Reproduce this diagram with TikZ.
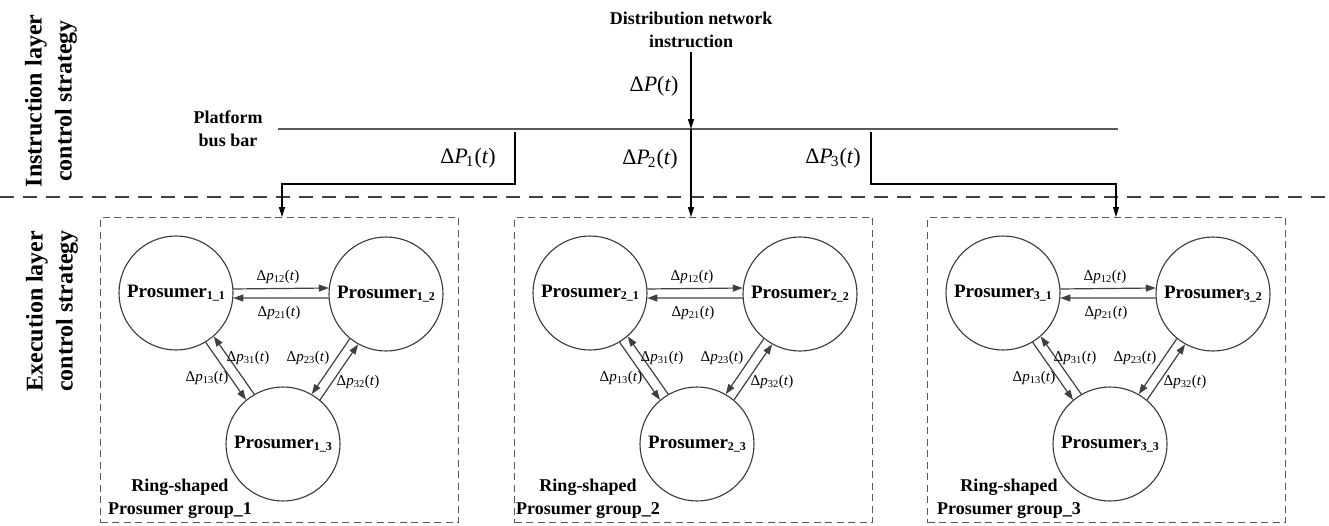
\documentclass[tikz,border=0pt]{standalone}
\usepackage{fontspec}
\setmainfont{Liberation Serif}
\usetikzlibrary{arrows.meta,calc}
\newcommand\psub[1]{\raisebox{-2.5pt}{\fontsize{12}{12}\selectfont #1}}
\newcommand\dpl[1]{Δ\textit{p}\textsubscript{#1}(\textit{t})}
\newcommand\bigdP[1]{Δ\textit{P}\kern-2pt\textsubscript{#1}\kern0.5pt(\textit{t})}
\tikzset{
  pros/.style={circle, draw=black!78, line width=1.1pt, minimum size=114pt, inner sep=0pt, font=\fontsize{19}{22}\selectfont\bfseries},
  grp/.style={draw=black!65, line width=1pt, dash pattern=on 7pt off 4.5pt, minimum width=358pt, minimum height=305pt, anchor=north west, inner sep=0pt},
  plab/.style={font=\fontsize{15}{18}\selectfont, inner sep=0pt},
  biglab/.style={font=\fontsize{22}{26}\selectfont, inner sep=0pt},
  boldlab/.style={font=\fontsize{18}{23}\selectfont\bfseries, align=center, inner sep=0pt},
  sidelab/.style={font=\fontsize{24}{30}\selectfont\bfseries, align=center, inner sep=0pt, rotate=90},
  flow/.style={draw=black!75, line width=1.2pt, -{Triangle[length=10pt,width=7pt]}},
  feed/.style={draw=black, line width=1.1pt, -{Triangle[length=10pt,width=6pt]}},
  busline/.style={draw=black!65, line width=1.2pt},
  layerline/.style={draw=black!75, line width=1.8pt, dash pattern=on 14pt off 9pt}
}
\begin{document}
\begin{tikzpicture}[x=1pt,y=-1pt]
\useasboundingbox (0,0) rectangle (1329,525);
% side labels
\node[sidelab] (instr) at (51,101) {Instruction layer\\control strategy};
\node[sidelab] (exec) at (52,311) {Execution layer\\control strategy};
% layer separator
\coordinate (sepL) at (0,197);
\coordinate (sepR) at (1329,197);
\draw[layerline] (sepL) -- (sepR);
% top
\node[boldlab] (dni) at (691,30) {Distribution network\\instruction};
\node[boldlab] (pbb) at (228,129) {Platform\\bus bar};
\coordinate (busL) at (278,129);
\coordinate (busR) at (1118,129);
\coordinate (bj) at (691,129);
\coordinate (dtop) at (691,52);
\draw[busline] (busL) -- (busR);
\draw[feed] (dtop) -- (bj);
\node[biglab] (dP) at (654,86) {Δ\textit{P}(\textit{t})};
% groups
\foreach \L/\g/\lx in {100/1/180, 514/2/588, 927/3/1009}{
  \node[grp] (g\g) at (\L,217) {};
  \node[pros] (c\g1) at (\L+76,293) {Prosumer\psub{\g\_1}};
  \node[pros] (c\g2) at (\L+286,294) {Prosumer\psub{\g\_2}};
  \node[pros] (c\g3) at (\L+183,444) {Prosumer\psub{\g\_3}};
  \node[boldlab] (lab\g) at (\lx,499) {Ring-shaped\\Prosumer group\_\g};
  % c1 - c2
  \draw[flow] let \p1=($(c\g2)-(c\g1)$), \n1={atan2(\y1,\x1)} in (c\g1.{\n1+5}) -- (c\g2.{\n1+175});
  \draw[flow] let \p1=($(c\g2)-(c\g1)$), \n1={atan2(\y1,\x1)} in (c\g2.{\n1+185}) -- (c\g1.{\n1-5});
  % c1 - c3
  \draw[flow] let \p1=($(c\g3)-(c\g1)$), \n1={atan2(\y1,\x1)} in (c\g3.{\n1+175}) -- (c\g1.{\n1+5});
  \draw[flow] let \p1=($(c\g3)-(c\g1)$), \n1={atan2(\y1,\x1)} in (c\g1.{\n1-5}) -- (c\g3.{\n1+185});
  % c2 - c3
  \draw[flow] let \p1=($(c\g3)-(c\g2)$), \n1={atan2(\y1,\x1)} in (c\g3.{\n1+175}) -- (c\g2.{\n1+5});
  \draw[flow] let \p1=($(c\g3)-(c\g2)$), \n1={atan2(\y1,\x1)} in (c\g2.{\n1-5}) -- (c\g3.{\n1+185});
  % labels
  \node[plab] (l12\g) at (\L+178,277) {\dpl{12}};
  \node[plab] (l21\g) at (\L+179,313) {\dpl{21}};
  \node[plab] (l31\g) at (\L+148,358) {\dpl{31}};
  \node[plab] (l13\g) at (\L+107,378) {\dpl{13}};
  \node[plab] (l23\g) at (\L+208,358) {\dpl{23}};
  \node[plab] (l32\g) at (\L+258,382) {\dpl{32}};
}
% feeders
\coordinate (p1s) at (515,132);
\coordinate (p1c) at (282,184);
\draw[feed] (p1s) |- (p1c) -- (p1c |- g1.north);
\draw[feed] (bj) -- (bj |- g2.north);
\coordinate (p3s) at (871,132);
\coordinate (p3c) at (1116,184);
\draw[feed] (p3s) |- (p3c) -- (p3c |- g3.north);
\node[biglab] (dP1) at (468,158) {\bigdP{1}};
\node[biglab] (dP2) at (650,159) {\bigdP{2}};
\node[biglab] (dP3) at (833,158) {\bigdP{3}};
\end{tikzpicture}
\end{document}
